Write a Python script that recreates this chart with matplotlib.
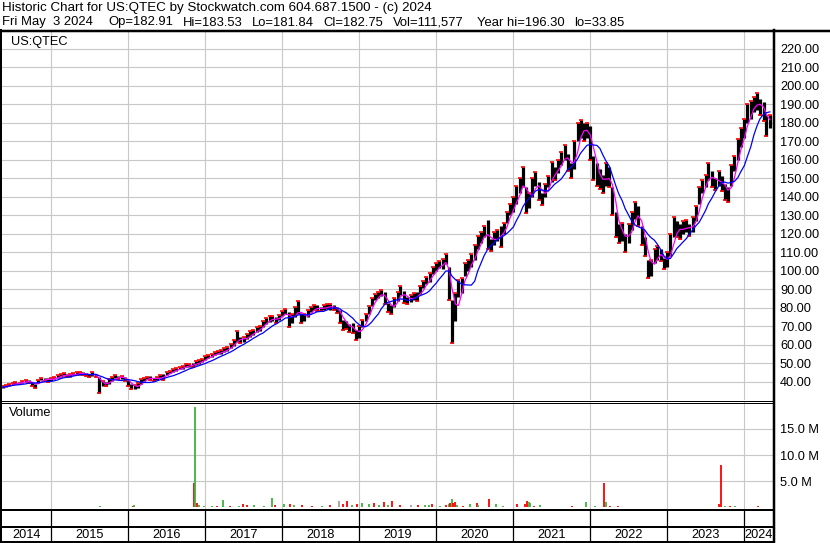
import matplotlib
matplotlib.use('Agg')
import matplotlib.pyplot as plt
import matplotlib.dates as mdates
from matplotlib.lines import Line2D
import numpy as np
import pandas as pd

plt.rcParams['font.family'] = ['Liberation Sans', 'DejaVu Sans']

W, H = 830, 543

# half-monthly bar ranges (1st and 15th of each month)
lo_2014 = [36.5, 37.0, 37.6, 38.2, 38.5, 38.6, 39.2, 39.8, 39.4, 37.5, 36.4, 39.5, 40.8, 40.5, 40.0]
hi_2014 = [37.6, 38.3, 38.8, 39.5, 40.0, 39.8, 40.5, 41.0, 40.8, 40.0, 39.0, 41.0, 42.0, 42.0, 42.2]
lo_2015 = [40.5, 41.2, 42.0, 42.8, 43.0, 42.6, 42.8, 43.4, 43.5, 43.8, 43.5, 43.0,
           42.6, 43.2, 42.6, 34.0, 37.6, 37.8, 38.8, 40.6, 41.8, 41.4, 41.6, 40.6]
hi_2015 = [42.2, 42.8, 43.6, 44.0, 44.5, 44.2, 44.3, 44.8, 45.0, 45.2, 45.0, 44.6,
           44.2, 45.0, 44.2, 42.8, 40.2, 40.0, 41.2, 42.6, 43.4, 43.2, 43.3, 42.6]
lo_2016 = [37.4, 35.8, 36.0, 36.4, 38.8, 40.6, 41.4, 41.0, 40.4, 40.8, 42.0, 41.0,
           43.6, 44.6, 45.2, 46.0, 46.6, 46.8, 47.8, 48.2, 47.8, 49.2, 49.8, 50.4]
hi_2016 = [41.0, 38.6, 38.4, 39.2, 41.2, 42.2, 42.8, 43.0, 42.0, 42.6, 43.4, 44.0,
           45.4, 46.0, 46.6, 47.4, 48.0, 48.6, 49.4, 49.8, 50.0, 51.0, 51.6, 52.2]
lo_2017 = [51.8, 52.8, 53.6, 54.2, 54.8, 55.2, 56.0, 56.8, 58.0, 59.4, 61.6, 61.0,
           61.6, 63.0, 64.4, 65.2, 66.6, 67.6, 69.8, 71.4, 72.4, 72.8, 71.6, 73.4]
hi_2017 = [53.8, 54.6, 55.2, 55.8, 56.4, 57.0, 58.0, 58.8, 60.4, 62.6, 67.4, 64.0,
           64.2, 65.6, 67.4, 68.0, 69.4, 70.2, 72.6, 74.4, 75.4, 75.6, 75.0, 76.0]
lo_2018 = [75.6, 76.8, 69.6, 71.6, 75.0, 76.6, 72.0, 72.6, 75.0, 77.6, 78.6, 78.2,
           78.0, 78.8, 79.2, 79.0, 78.8, 77.0, 72.0, 68.0, 68.4, 67.0, 66.4, 62.8]
hi_2018 = [78.0, 79.4, 77.6, 76.4, 80.6, 83.4, 77.0, 76.6, 78.6, 80.2, 81.4, 81.2,
           80.6, 81.6, 82.0, 82.2, 81.4, 80.6, 79.0, 73.6, 72.8, 71.4, 71.6, 68.0]
lo_2019 = [63.6, 69.6, 72.8, 76.4, 81.0, 84.0, 85.4, 86.2, 82.0, 77.6, 76.8, 80.4,
           83.8, 86.8, 82.4, 81.8, 83.0, 84.4, 83.4, 87.4, 90.6, 93.0, 94.0, 98.0]
hi_2019 = [70.0, 73.6, 76.6, 81.0, 85.0, 87.6, 88.6, 89.6, 88.6, 82.6, 81.6, 85.0,
           88.6, 92.0, 89.0, 85.8, 87.0, 87.8, 88.4, 91.6, 94.2, 96.4, 98.8, 101.8]
lo_2020 = [99.6, 101.2, 100.8, 103.6, 84.0, 61.0, 73.0, 86.0, 88.0, 97.0, 100.0, 102.0,
           106.0, 112.0, 115.0, 118.0, 112.0, 110.6, 114.0, 116.0, 113.0, 120.0, 126.0, 130.0]
hi_2020 = [104.0, 105.4, 106.6, 109.2, 102.0, 84.0, 88.0, 95.0, 96.0, 104.0, 106.0, 109.0,
           114.0, 119.0, 121.0, 124.0, 127.2, 117.0, 121.0, 122.0, 124.0, 126.0, 132.0, 136.0]
lo_2021 = [132.0, 136.0, 142.0, 145.0, 131.0, 134.0, 140.0, 146.0, 138.0, 135.6, 140.0, 145.0,
           148.0, 149.0, 153.0, 157.0, 160.0, 154.0, 150.0, 155.0, 170.0, 172.0, 170.0, 172.0]
hi_2021 = [140.0, 146.0, 150.0, 156.0, 145.0, 142.0, 150.0, 153.6, 148.0, 142.0, 147.0, 151.0,
           159.0, 156.0, 160.0, 164.0, 168.0, 163.0, 158.0, 170.0, 180.0, 181.6, 180.0, 180.0]
lo_2022 = [160.0, 149.0, 146.0, 144.0, 141.8, 146.0, 145.0, 130.0, 118.0, 115.0, 116.0, 110.0,
           115.0, 122.0, 128.0, 124.0, 114.0, 108.0, 96.0, 97.0, 104.0, 106.0, 105.0, 101.0]
hi_2022 = [178.0, 162.0, 158.0, 155.0, 152.0, 158.0, 156.0, 145.0, 132.0, 125.0, 126.0, 120.0,
           125.0, 132.0, 137.0, 135.0, 124.0, 118.0, 106.0, 106.0, 112.0, 113.4, 112.0, 107.0]
lo_2023 = [102.0, 108.0, 118.0, 118.0, 117.0, 120.0, 121.0, 119.0, 121.0, 127.0, 136.0, 142.0,
           145.0, 149.0, 145.0, 143.6, 146.0, 143.0, 138.0, 137.0, 146.0, 154.0, 160.0, 167.0]
hi_2023 = [110.0, 120.0, 129.0, 127.0, 125.0, 127.0, 127.6, 125.0, 129.0, 135.0, 145.0, 149.0,
           152.0, 158.0, 154.0, 150.0, 154.0, 151.0, 147.0, 145.0, 157.0, 162.0, 171.0, 177.0]
lo_2024 = [172.0, 180.0, 182.0, 186.0, 187.0, 184.0, 181.0, 173.0, 177.0]
hi_2024 = [182.0, 190.0, 192.0, 194.0, 196.0, 193.0, 191.0, 184.0, 184.0]

# notable volume bars (millions); g = up, r = down, k = unchanged
vol_dates = ['2014-09-15', '2014-10-16', '2014-11-21', '2014-12-08', '2015-01-04', '2015-02-13',
             '2015-08-21', '2016-01-23', '2016-01-30', '2016-05-23', '2016-10-12', '2016-11-06',
             '2016-11-14', '2016-11-23', '2016-12-02', '2016-12-25', '2017-02-03', '2017-02-24',
             '2017-03-26', '2017-04-28', '2017-06-07', '2017-06-26', '2017-07-16', '2017-08-18',
             '2017-10-04', '2017-11-13', '2017-11-29', '2018-01-08', '2018-02-07', '2018-02-24',
             '2018-04-04', '2018-05-22', '2018-07-08', '2018-08-16', '2018-09-28', '2018-10-17',
             '2018-11-03', '2018-11-26', '2018-12-19', '2019-01-14', '2019-02-14', '2019-03-10',
             '2019-04-02', '2019-04-26', '2019-05-16', '2019-06-04', '2019-07-13', '2019-09-05',
             '2019-10-06', '2019-11-10', '2019-11-25', '2019-12-10', '2020-01-19', '2020-02-16',
             '2020-02-28', '2020-03-07', '2020-03-15', '2020-03-22', '2020-03-30', '2020-04-10',
             '2020-05-08', '2020-06-09', '2020-07-10', '2020-07-18', '2020-09-09', '2020-10-10',
             '2020-11-14', '2021-01-18', '2021-02-26', '2021-03-06', '2021-03-14', '2021-03-21',
             '2021-04-09', '2021-05-07', '2021-10-05', '2021-12-10', '2022-01-23', '2022-03-08',
             '2022-03-16', '2022-04-04', '2022-05-13', '2022-06-14', '2022-07-07', '2022-10-15',
             '2022-11-04', '2022-12-30', '2023-01-31', '2023-03-03', '2023-04-04', '2023-05-21',
             '2023-06-21', '2023-08-20', '2023-09-05', '2023-09-12', '2023-10-02', '2023-10-25',
             '2023-11-18', '2023-12-11', '2024-01-12', '2024-02-13', '2024-03-08', '2024-04-16']
vol_m = [0.15, 0.15, 0.15, 0.12, 0.12, 0.10,
         0.20, 0.30, 0.50, 0.12, 0.15, 4.60,
         19.1, 0.80, 0.50, 0.20, 0.30, 0.20,
         1.50, 0.30, 0.30, 0.70, 0.40, 0.40,
         0.30, 1.80, 0.40, 0.60, 0.70, 0.40,
         0.40, 0.20, 0.30, 0.50, 1.20, 0.60,
         1.30, 0.50, 0.60, 0.90, 0.60, 0.90,
         0.50, 1.00, 0.50, 1.20, 0.40, 0.40,
         0.40, 0.50, 0.50, 0.70, 0.30, 0.50,
         0.70, 0.90, 1.70, 0.80, 1.00, 0.50,
         0.30, 0.60, 0.90, 0.50, 1.70, 0.60,
         0.20, 0.70, 0.60, 1.20, 1.00, 0.80,
         0.30, 0.40, 0.20, 1.00, 0.30, 4.60,
         1.00, 0.30, 0.30, 0.12, 0.12, 0.15,
         0.15, 0.15, 0.15, 0.15, 0.15, 0.15,
         0.15, 0.15, 0.60, 8.20, 0.20, 0.30,
         0.20, 0.15, 0.15, 0.15, 0.30, 0.15]
vol_col = ['g', 'g', 'r', 'r', 'r', 'g',
           'g', 'r', 'g', 'g', 'r', 'r',
           'g', 'r', 'g', 'g', 'g', 'r',
           'g', 'r', 'g', 'r', 'r', 'g',
           'g', 'g', 'r', 'g', 'r', 'g',
           'r', 'r', 'g', 'r', 'k', 'r',
           'r', 'g', 'r', 'g', 'g', 'r',
           'g', 'r', 'g', 'r', 'r', 'k',
           'r', 'g', 'g', 'r', 'g', 'r',
           'g', 'r', 'g', 'r', 'r', 'g',
           'r', 'g', 'r', 'g', 'r', 'g',
           'g', 'r', 'r', 'r', 'g', 'g',
           'r', 'g', 'r', 'g', 'g', 'r',
           'g', 'r', 'r', 'r', 'r', 'r',
           'r', 'g', 'g', 'g', 'g', 'r',
           'r', 'r', 'r', 'r', 'g', 'r',
           'g', 'g', 'r', 'r', 'r', 'r']

price_ticks = list(range(40, 230, 10))
vol_ticks = [5, 10, 15]
years = list(range(2014, 2025))

lo = np.array(lo_2014 + lo_2015 + lo_2016 + lo_2017 + lo_2018 + lo_2019 +
              lo_2020 + lo_2021 + lo_2022 + lo_2023 + lo_2024)
hi = np.array(hi_2014 + hi_2015 + hi_2016 + hi_2017 + hi_2018 + hi_2019 +
              hi_2020 + hi_2021 + hi_2022 + hi_2023 + hi_2024)
dates = pd.date_range('2014-05-15', periods=len(lo), freq='SMS')
mid = (lo + hi) / 2
prev = np.concatenate([[mid[0]], mid[:-1]])
close = np.where(mid >= prev, hi, lo)
ma_fast = pd.Series(mid).rolling(3, min_periods=1).mean()
ma_slow = pd.Series(mid).rolling(8, min_periods=1).mean()

colmap = {'g': '#3cb43c', 'r': '#ff0000', 'k': '#a0a0a0'}
vd = pd.to_datetime(vol_dates)
vc = [colmap[c] for c in vol_col]

x0 = pd.Timestamp('2014-05-12')
x1 = pd.Timestamp('2024-05-16')
grid_c = '#c8c8c8'


def fx(px):
    return px / W


def fy(py):
    return 1 - py / H


fig = plt.figure(figsize=(W / 100, H / 100), dpi=100)

# price panel
ax = fig.add_axes([fx(2), fy(400), fx(771), 369 / H])
ax.vlines(dates, lo, hi, color='black', linewidth=2.3)
ax.plot(dates, close, linestyle='none', marker='_', color='#ff0000', markersize=2.5, mew=1.2)
ax.plot(dates, ma_fast, color='#ff00ff', linewidth=0.9)
ax.plot(dates, ma_slow, color='#0000ff', linewidth=0.9)
ax.set_xlim(x0, x1)
ax.set_ylim(30.1, 229.6)
ax.set_yticks(price_ticks)
ax.set_yticklabels(['%.2f' % v for v in price_ticks])
ax.yaxis.tick_right()
ax.xaxis.set_major_locator(mdates.YearLocator())
ax.set_xticklabels([])
ax.tick_params(length=0, labelsize=9.2, pad=5)
ax.grid(True, color=grid_c, linewidth=0.8)
ax.set_axisbelow(True)
for s in ax.spines.values():
    s.set_visible(False)
ax.text(fx(9) / fx(771), 1 - 11 / 369, 'US:QTEC', transform=ax.transAxes,
        fontsize=9.2, va='center', ha='left')

# volume panel
av = fig.add_axes([fx(2), fy(510), fx(771), 108 / H])
av.vlines(vd, 0, vol_m, colors=vc, linewidth=1.3)
av.set_xlim(x0, x1)
av.set_ylim(-0.48, 20.13)
av.set_yticks(vol_ticks)
av.set_yticklabels(['%.1f M' % v for v in vol_ticks])
av.yaxis.tick_right()
av.xaxis.set_major_locator(mdates.YearLocator())
av.set_xticklabels([])
av.tick_params(length=0, labelsize=9.2, pad=5)
av.grid(True, color=grid_c, linewidth=0.8)
av.set_axisbelow(True)
for s in av.spines.values():
    s.set_visible(False)
av.text(7 / 771, 1 - 11 / 108, 'Volume', transform=av.transAxes,
        fontsize=9.2, va='center', ha='left')

# date rows
ad = fig.add_axes([fx(2), fy(541.5), fx(771), 31.5 / H])
ad.set_xlim(x0, x1)
ad.set_ylim(0, 1)
ad.axis('off')
bounds = [x0] + [pd.Timestamp('%d-01-01' % y) for y in years[1:]] + [x1]
for b in bounds[1:-1]:
    ad.axvline(b, color='black', linewidth=0.9)
for i, y in enumerate(years):
    c = bounds[i] + (bounds[i + 1] - bounds[i]) / 2
    ad.text(c, 0.2, str(y), ha='center', va='center', fontsize=9.2)

# frame lines (pixel coordinates)
def line(xa, ya, xb, yb, lw):
    fig.add_artist(Line2D([fx(xa), fx(xb)], [fy(ya), fy(yb)], color='black',
                          linewidth=lw * 0.72, transform=fig.transFigure))


line(0, 30.7, W, 30.7, 2.5)
line(1, 30, 1, H, 2)
line(773.8, 30, 773.8, H, 2.5)
line(0, 400.5, 773, 400.5, 1)
line(0, 402.5, 773, 402.5, 1)
line(0, 510, 773, 510, 2)
line(0, 527, 773, 527, 2)
line(0, 541.8, 773, 541.8, 2)

# header
fig.text(fx(2), fy(8.5), 'Historic Chart for US:QTEC by Stockwatch.com 604.687.1500 - (c) 2024',
         fontsize=9.6, va='center', ha='left')
hdr = [('Fri May  3 2024', 2), ('Op=182.91', 108), ('Hi=183.53', 183), ('Lo=181.84', 252),
       ('Cl=182.75', 323), ('Vol=111,577', 393), ('Year hi=196.30', 477), ('lo=33.85', 574)]
for s, px in hdr:
    fig.text(fx(px), fy(22.5), s, fontsize=9.4, va='center', ha='left')

fig.savefig('out.png', dpi=100)
